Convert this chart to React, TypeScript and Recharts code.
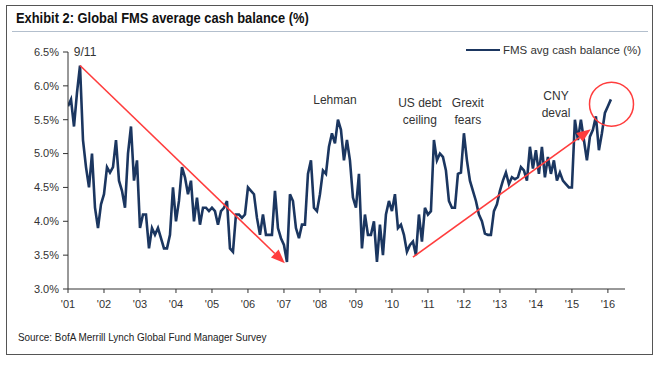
import { LineChart, Line, XAxis, YAxis, ReferenceLine, ReferenceDot } from "recharts";

// monthly FMS average cash balance (%), Jan 2001 onward
const cashBalance = [
  5.7, 5.8, 5.4, 5.9, 6.3, 5.2, 4.8, 4.5, 5.0, 4.2, 3.9, 4.25,
  4.4, 4.8, 4.72, 4.8, 5.2, 4.6, 4.45, 4.2, 5.0, 5.4, 4.6, 4.9,
  3.9, 4.1, 4.1, 3.6, 3.9, 3.8, 3.9, 3.75, 3.6, 3.6, 3.8, 4.5,
  4.0, 4.3, 4.8, 4.65, 4.4, 4.6, 4.0, 4.35, 3.95, 4.2, 4.2, 4.15,
  4.2, 4.15, 3.95, 4.15, 4.2, 4.3, 3.6, 3.55, 4.1, 4.1, 4.05, 4.1,
  4.5, 4.45, 4.4, 4.05, 3.8, 4.1, 3.8, 3.8, 3.8, 4.45, 3.9, 3.75,
  3.65, 3.4, 4.4, 4.3, 3.9, 3.75, 3.95, 3.95, 4.7, 4.9, 4.2, 4.15,
  4.4, 4.75, 4.7, 5.1, 5.3, 5.15, 5.5, 5.35, 4.9, 5.2, 4.9, 4.35,
  4.2, 4.7, 3.6, 4.1, 3.8, 3.8, 4.0, 3.4, 3.95, 3.5, 4.1, 4.3,
  4.15, 4.4, 3.9, 3.95, 3.8, 3.55, 3.65, 3.7, 3.5, 4.1, 3.7, 4.2,
  4.1, 4.15, 5.2, 4.9, 5.0, 4.95, 4.75, 4.3, 4.2, 4.2, 4.7, 4.72,
  5.3, 4.9, 4.6, 4.45, 4.3, 4.1, 4.0, 3.82, 3.8, 3.8, 4.15, 4.25,
  4.45, 4.6, 4.72, 4.55, 4.65, 4.62, 4.65, 4.8, 4.75, 4.6, 5.1, 4.78,
  5.05, 4.7, 5.1, 4.65, 4.95, 4.7, 4.9, 4.6, 4.72, 4.6, 4.55, 4.5,
  4.5, 5.5, 5.2, 5.5, 5.2, 4.9, 5.25, 5.35, 5.55, 5.05, 5.3, 5.6,
  5.7, 5.8,
];

const yearLabels = ["'01", "'02", "'03", "'04", "'05", "'06", "'07", "'08", "'09", "'10", "'11", "'12", "'13", "'14", "'15", "'16"];
const yTicks = [3.0, 3.5, 4.0, 4.5, 5.0, 5.5, 6.0, 6.5];

// annotations, in chart coordinates (month index, %)
const notes = [
  { lines: ["9/11"], x: 5.7, y: 6.5 },
  { lines: ["Lehman"], x: 89, y: 5.79 },
  { lines: ["US debt", "ceiling"], x: 117.3, y: 5.75 },
  { lines: ["Grexit", "fears"], x: 133.3, y: 5.75 },
  { lines: ["CNY", "deval"], x: 162.7, y: 5.85 },
];
const arrows = [
  { x1: 4, y1: 6.3, x2: 72.3, y2: 3.38 },
  { x1: 115, y1: 3.47, x2: 174.3, y2: 5.36 },
];
const highlight = { x: 181.2, y: 5.73 };

const data = cashBalance.map((v, i) => ({ i, v }));
const xTicks = yearLabels.map((_, k) => k * 12);

const FONT = "'Liberation Sans Narrow', 'Liberation Sans', Arial, sans-serif";
const NAVY = "#1b3660";
const RED = "#ff3d3d";
const INK = "#333";

function Arrow(props: any) {
  const { x1, y1, x2, y2 } = props;
  const a = Math.atan2(y2 - y1, x2 - x1);
  const len = 14;
  const half = 5.5;
  const bx = x2 - len * Math.cos(a);
  const by = y2 - len * Math.sin(a);
  const p1 = `${bx - half * Math.sin(a)},${by + half * Math.cos(a)}`;
  const p2 = `${bx + half * Math.sin(a)},${by - half * Math.cos(a)}`;
  return (
    <g>
      <line x1={x1} y1={y1} x2={bx} y2={by} stroke={RED} strokeWidth={1.6} />
      <polygon points={`${x2},${y2} ${p1} ${p2}`} fill={RED} />
    </g>
  );
}

function noteShape(lines: string[]) {
  return (p: any) => (
    <text x={p.cx} y={p.cy} textAnchor="middle" fontSize={12} fill={INK} fontFamily={FONT}>
      {lines.map((t, k) => (
        <tspan key={t} x={p.cx} dy={k === 0 ? "0.35em" : 17}>
          {t}
        </tspan>
      ))}
    </text>
  );
}

export default function App() {
  return (
    <div
      style={{
        position: "absolute",
        left: 0,
        top: 0,
        width: 659,
        height: 365,
        background: "#fff",
        fontFamily: FONT,
        color: "#111",
      }}
    >
      <div style={{ position: "absolute", left: 6, top: 5, width: 645, height: 348, border: "1px solid #555" }} />
      <div
        style={{
          position: "absolute",
          left: 16,
          top: 10,
          fontSize: 14,
          fontWeight: 700,
          whiteSpace: "nowrap",
          transform: "scaleX(0.92)",
          transformOrigin: "left center",
        }}
      >
        Exhibit 2: Global FMS average cash balance (%)
      </div>
      <div style={{ position: "absolute", left: 12, top: 31, width: 636, height: 1, background: "#b3bfcd" }} />

      <div style={{ position: "absolute", left: 0, top: 0 }}>
        <LineChart width={659} height={315} data={data} margin={{ top: 52, right: 34, bottom: 1, left: 8 }}>
          <XAxis
            type="number"
            dataKey="i"
            domain={[0, 185.7]}
            ticks={xTicks}
            tickFormatter={(v) => yearLabels[Math.round(v / 12)]}
            height={25}
            tickSize={4}
            tickMargin={7}
            stroke={INK}
            tick={{ fill: INK, fontSize: 11, fontFamily: FONT }}
            allowDataOverflow
          />
          <YAxis
            type="number"
            domain={[3, 6.5]}
            ticks={yTicks}
            tickFormatter={(v) => `${Number(v).toFixed(1)}%`}
            width={60}
            tickSize={5}
            tickMargin={4}
            stroke={INK}
            tick={{ fill: INK, fontSize: 11, fontFamily: FONT }}
            allowDataOverflow
          />
          <Line
            type="linear"
            dataKey="v"
            stroke={NAVY}
            strokeWidth={2.6}
            dot={false}
            isAnimationActive={false}
          />
          {arrows.map((a, k) => (
            <ReferenceLine
              key={k}
              segment={[
                { x: a.x1, y: a.y1 },
                { x: a.x2, y: a.y2 },
              ]}
              ifOverflow="visible"
              shape={Arrow}
            />
          ))}
          <ReferenceDot
            x={highlight.x}
            y={highlight.y}
            r={22}
            fill="none"
            stroke={RED}
            strokeWidth={1.5}
            ifOverflow="visible"
          />
          {notes.map((n) => (
            <ReferenceDot key={n.lines[0]} x={n.x} y={n.y} r={1} ifOverflow="visible" shape={noteShape(n.lines)} />
          ))}
        </LineChart>
      </div>

      <div
        style={{
          position: "absolute",
          left: 466,
          top: 44,
          display: "flex",
          alignItems: "center",
          fontSize: 11.5,
          color: INK,
          whiteSpace: "nowrap",
        }}
      >
        <span style={{ display: "inline-block", width: 34, height: 2.5, background: NAVY, marginRight: 3 }} />
        FMS avg cash balance (%)
      </div>

      <div
        style={{
          position: "absolute",
          left: 18,
          top: 331,
          fontSize: 11,
          color: "#222",
          whiteSpace: "nowrap",
          transform: "scaleX(0.9)",
          transformOrigin: "left center",
        }}
      >
        Source: BofA Merrill Lynch Global Fund Manager Survey
      </div>
    </div>
  );
}
